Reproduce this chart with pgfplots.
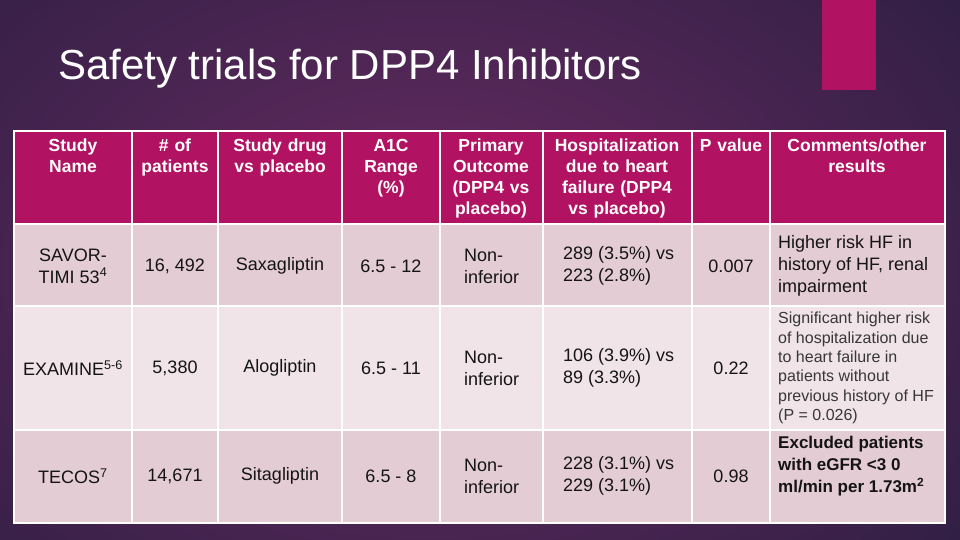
\documentclass[border=0pt]{standalone}
\usepackage{pgfplots}
\pgfplotsset{compat=1.18}
\usepackage{fontspec}
\setmainfont{Liberation Sans}
\definecolor{bgdark}{RGB}{36,28,62}
\definecolor{glow}{RGB}{104,44,98}
\definecolor{hdr}{RGB}{178,18,98}
\definecolor{rowA}{RGB}{228,204,212}
\definecolor{rowB}{RGB}{240,228,233}
\definecolor{ink}{RGB}{20,20,20}
\newcommand{\hd}{\fontsize{17.5}{21}\bfseries\selectfont}
\newcommand{\bd}{\fontsize{18}{22}\selectfont}
\begin{document}
\begin{tikzpicture}
\begin{axis}[
  width=960pt, height=540pt, scale only axis,
  xmin=0, xmax=960, ymin=0, ymax=540, y dir=reverse,
  hide axis, no marks,
]
% background
\fill[bgdark] (axis cs:0,0) rectangle (axis cs:960,540);
\shade[inner color=glow, outer color=bgdark] (axis cs:430,270) ellipse [x radius=820, y radius=580];
% accent bar
\addplot[fill=hdr, draw=none] coordinates {(822,0) (876,0) (876,90) (822,90)} -- cycle;
% title
\node[anchor=base west, text=white, inner sep=0, font=\fontsize{42}{46}\selectfont]
  at (axis cs:58,80) {Safety trials for DPP4 Inhibitors};
% table rows
\addplot[fill=hdr, draw=none] coordinates {(14,131) (945,131) (945,224) (14,224)} -- cycle;
\addplot[fill=rowA, draw=none] coordinates {(14,224) (945,224) (945,306) (14,306)} -- cycle;
\addplot[fill=rowB, draw=none] coordinates {(14,306) (945,306) (945,430) (14,430)} -- cycle;
\addplot[fill=rowA, draw=none] coordinates {(14,430) (945,430) (945,523) (14,523)} -- cycle;
% grid lines
\foreach \x in {132,218,342,440,543,692,770} {
  \addplot[white, line width=2pt] coordinates {(\x,131) (\x,523)};
}
\foreach \y in {224,306,430} {
  \addplot[white, line width=2pt] coordinates {(14,\y) (945,\y)};
}
\addplot[white, line width=2.2pt] coordinates {(14,131) (945,131) (945,523) (14,523)} -- cycle;
% header text
\begin{scope}[every node/.style={anchor=north, align=center, text=white, inner sep=0, font=\hd}]
\node[text width=116pt] at (axis cs:73,139) {Study\\Name};
\node[text width=86pt] at (axis cs:175,139) {\# of\\patients};
\node[text width=124pt] at (axis cs:280,139) {Study drug\\vs placebo};
\node[text width=98pt] at (axis cs:391,139) {A1C\\Range\\(\%)};
\node[text width=103pt] at (axis cs:491,139) {Primary\\Outcome\\(DPP4 vs\\placebo)};
\node[text width=149pt] at (axis cs:617,139) {Hospitalization\\due to heart\\failure (DPP4\\vs placebo)};
\node[text width=78pt] at (axis cs:731,139) {P value};
\node[text width=175pt] at (axis cs:857,139) {Comments/other\\results};
\end{scope}
% body text
\begin{scope}[every node/.style={align=center, text=ink, inner sep=0, font=\bd}]
\node at (axis cs:73,266) {SAVOR-\\TIMI 53\textsuperscript{4}};
\node at (axis cs:175,266) {16, 492};
\node at (axis cs:280,266) {Saxagliptin};
\node at (axis cs:391,266) {6.5 - 12};
\node at (axis cs:731,266) {0.007};
\node at (axis cs:73,368) {EXAMINE\textsuperscript{5-6}};
\node at (axis cs:175,368) {5,380};
\node at (axis cs:280,368) {Alogliptin};
\node at (axis cs:391,368) {6.5 - 11};
\node at (axis cs:731,368) {0.22};
\node at (axis cs:73,476) {TECOS\textsuperscript{7}};
\node at (axis cs:175,476) {14,671};
\node at (axis cs:280,476) {Sitagliptin};
\node at (axis cs:391,476) {6.5 - 8};
\node at (axis cs:731,476) {0.98};
\end{scope}
\begin{scope}[every node/.style={anchor=west, align=left, text=ink, inner sep=0, font=\bd}]
\node at (axis cs:464,266) {Non-\\inferior};
\node at (axis cs:464,368) {Non-\\inferior};
\node at (axis cs:464,476) {Non-\\inferior};
\node at (axis cs:563,266) {289 (3.5\%) vs\\223 (2.8\%)};
\node at (axis cs:563,368) {106 (3.9\%) vs\\89 (3.3\%)};
\node at (axis cs:563,476) {228 (3.1\%) vs\\229 (3.1\%)};
\node at (axis cs:778,266) {Higher risk HF in\\history of HF, renal\\impairment};
\node[font=\fontsize{16}{19.3}\selectfont, text=ink!85] at (axis cs:778,368)
  {Significant higher risk\\of hospitalization due\\to heart failure in\\patients without\\previous history of HF\\(P = 0.026)};
\node[font=\fontsize{17}{22}\bfseries\selectfont] at (axis cs:778,466)
  {Excluded patients\\with eGFR <3 0\\ml/min per 1.73m\textsuperscript{2}};
\end{scope}
\end{axis}
\end{tikzpicture}
\end{document}
